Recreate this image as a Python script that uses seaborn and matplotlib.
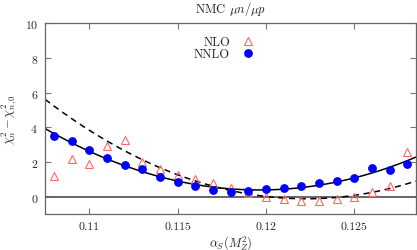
import matplotlib
matplotlib.use("Agg")
import matplotlib.pyplot as plt
import numpy as np
import pandas as pd
import seaborn as sns

# alpha_s scan, NMC mu n / mu p
alphas = [0.108, 0.109, 0.110, 0.111, 0.112, 0.113, 0.114, 0.115, 0.116, 0.117, 0.118,
          0.119, 0.120, 0.121, 0.122, 0.123, 0.124, 0.125, 0.126, 0.127, 0.128]
chi2_nlo = [1.18, 2.17, 1.89, 2.94, 3.25, 2.02, 1.60, 1.28, 1.00, 0.82, 0.48,
            0.21, 0.01, -0.15, -0.24, -0.23, -0.11, 0.01, 0.30, 0.63, 2.60]
chi2_nnlo = [3.52, 3.19, 2.69, 2.23, 1.85, 1.60, 1.12, 0.85, 0.60, 0.40, 0.25,
             0.35, 0.43, 0.50, 0.63, 0.79, 0.92, 1.08, 1.64, 1.57, 1.90]
x_ticks = [0.11, 0.115, 0.12, 0.125]
x_tick_labels = ["0.11", "0.115", "0.12", "0.125"]
y_ticks = [0, 2, 4, 6, 8, 10]

sns.set_style("ticks")
plt.rcParams["font.family"] = "serif"
plt.rcParams["font.serif"] = ["cmr10"]
plt.rcParams["mathtext.fontset"] = "cm"
plt.rcParams["axes.formatter.use_mathtext"] = True

df = pd.DataFrame({"alphas": alphas, "NLO": chi2_nlo, "NNLO": chi2_nnlo})

# parabola fits (NLO fit uses the central points only)
xs = np.linspace(0.1075, 0.1285, 200)
p_nnlo = np.polyfit(df["alphas"], df["NNLO"], 2)
mid = df[(df["alphas"] >= 0.1125) & (df["alphas"] <= 0.1275)]
p_nlo = np.polyfit(mid["alphas"], mid["NLO"], 2)
fits = pd.DataFrame({"alphas": xs, "nnlo": np.polyval(p_nnlo, xs), "nlo": np.polyval(p_nlo, xs)})

fig = plt.figure(figsize=(4.17, 2.51), dpi=100)
ax = fig.add_axes([0.108, 0.143, 0.89, 0.76])

ax.axhline(0, color="#666666", lw=1.4, zorder=1)
sns.lineplot(data=fits, x="alphas", y="nlo", ax=ax, color="black", lw=1.1,
             linestyle=(0, (4, 3)), zorder=2)
sns.lineplot(data=fits, x="alphas", y="nnlo", ax=ax, color="black", lw=1.1, zorder=2)
ax.plot(df["alphas"], df["NLO"], linestyle="none", marker="^", ms=5.8,
        mfc="none", mec="#ff6666", mew=0.8, label="NLO", zorder=3)
ax.plot(df["alphas"], df["NNLO"], linestyle="none", marker="o", ms=5.3,
        mfc="#0000ff", mec="#0000ff", label="NNLO", zorder=4)

ax.set_xlim(0.1075, 0.1285)
ax.set_ylim(-1, 10)
ax.set_xticks(x_ticks)
ax.set_xticklabels(x_tick_labels)
ax.set_yticks(y_ticks)
ax.tick_params(direction="in", top=True, right=True, length=4, color="#777777",
               labelsize=8.5, pad=5)
for s in ax.spines.values():
    s.set_color("#666666")
    s.set_linewidth(0.9)

ax.set_xlabel(r"$\alpha_S(M_Z^2)$", fontsize=9, labelpad=2)
ax.set_ylabel(r"$\chi^2_n - \chi^2_{n,0}$", fontsize=9, labelpad=4)
ax.set_title(r"NMC $\mu n/\mu p$", fontsize=9, pad=8)

ax.legend(loc="upper right", bbox_to_anchor=(0.59, 0.98), frameon=False,
          markerfirst=False, fontsize=9, handlelength=1.2, handletextpad=0.8,
          labelspacing=0.0, borderpad=0.2)

fig.savefig("out.png", dpi=100)
